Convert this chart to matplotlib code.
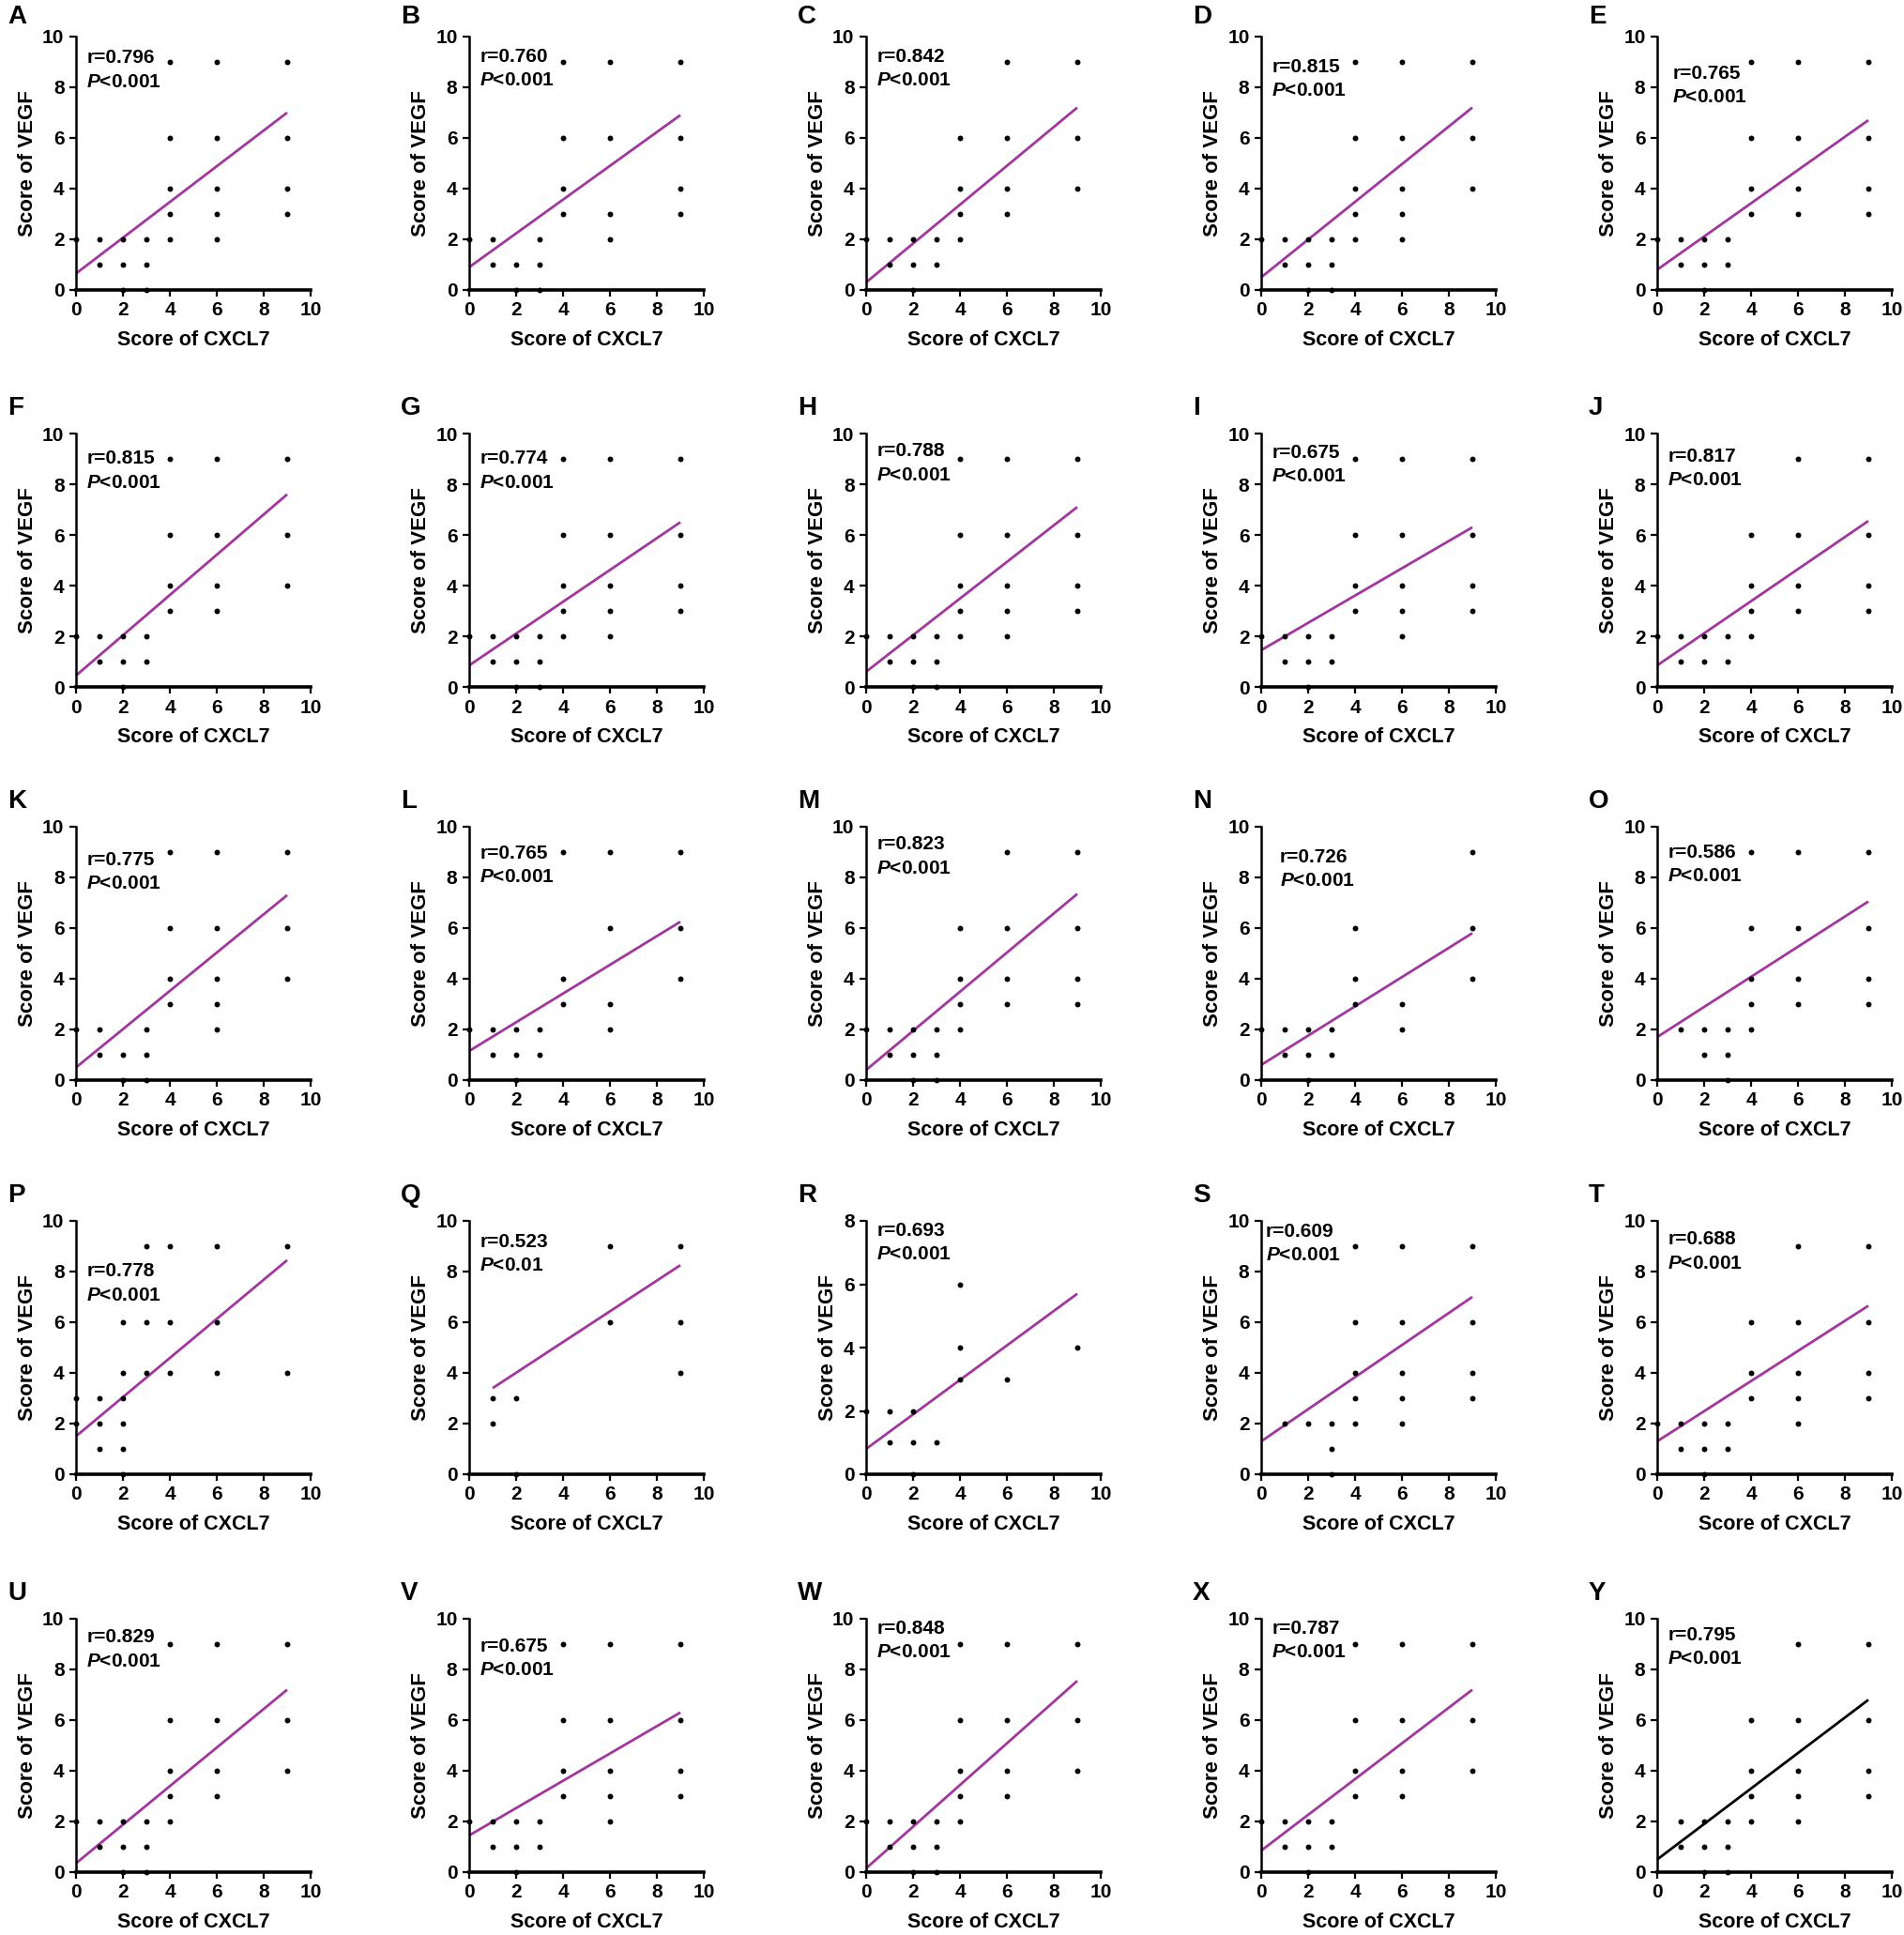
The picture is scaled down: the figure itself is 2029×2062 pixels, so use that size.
import matplotlib
matplotlib.use("Agg")
import matplotlib.pyplot as plt

plt.rcParams['font.family'] = ['Liberation Sans', 'DejaVu Sans']
plt.rcParams['font.weight'] = 'bold'
plt.rcParams['mathtext.fontset'] = 'custom'
plt.rcParams['mathtext.it'] = 'Liberation Sans:bold:italic'
plt.rcParams['mathtext.rm'] = 'Liberation Sans:bold'

# data: (score of CXCL7, score of VEGF) per panel
cxcl7_A = [0, 1, 1, 2, 2, 2, 3, 3, 3, 4, 4, 4, 4, 4, 6, 6, 6, 6, 6, 9, 9, 9, 9]
vegf_A = [2, 2, 1, 2, 1, 0, 2, 1, 0, 9, 6, 4, 3, 2, 9, 6, 4, 3, 2, 9, 6, 4, 3]
cxcl7_B = [0, 1, 1, 2, 2, 3, 3, 3, 4, 4, 4, 4, 6, 6, 6, 6, 9, 9, 9, 9]
vegf_B = [2, 2, 1, 1, 0, 2, 1, 0, 9, 6, 4, 3, 9, 6, 3, 2, 9, 6, 4, 3]
cxcl7_C = [0, 1, 1, 2, 2, 2, 3, 3, 4, 4, 4, 4, 6, 6, 6, 6, 9, 9, 9]
vegf_C = [2, 2, 1, 2, 1, 0, 2, 1, 6, 4, 3, 2, 9, 6, 4, 3, 9, 6, 4]
cxcl7_D = [0, 1, 1, 2, 2, 2, 3, 3, 3, 4, 4, 4, 4, 4, 6, 6, 6, 6, 6, 9, 9, 9]
vegf_D = [2, 2, 1, 2, 1, 0, 2, 1, 0, 9, 6, 4, 3, 2, 9, 6, 4, 3, 2, 9, 6, 4]
cxcl7_E = [0, 1, 1, 2, 2, 2, 3, 3, 4, 4, 4, 4, 6, 6, 6, 6, 9, 9, 9, 9]
vegf_E = [2, 2, 1, 2, 1, 0, 2, 1, 9, 6, 4, 3, 9, 6, 4, 3, 9, 6, 4, 3]
cxcl7_F = [0, 1, 1, 2, 2, 2, 3, 3, 4, 4, 4, 4, 6, 6, 6, 6, 9, 9, 9]
vegf_F = [2, 2, 1, 2, 1, 0, 2, 1, 9, 6, 4, 3, 9, 6, 4, 3, 9, 6, 4]
cxcl7_G = [0, 1, 1, 2, 2, 2, 3, 3, 3, 4, 4, 4, 4, 4, 6, 6, 6, 6, 6, 9, 9, 9, 9]
vegf_G = [2, 2, 1, 2, 1, 0, 2, 1, 0, 9, 6, 4, 3, 2, 9, 6, 4, 3, 2, 9, 6, 4, 3]
cxcl7_H = [0, 1, 1, 2, 2, 2, 3, 3, 3, 4, 4, 4, 4, 4, 6, 6, 6, 6, 6, 9, 9, 9, 9]
vegf_H = [2, 2, 1, 2, 1, 0, 2, 1, 0, 9, 6, 4, 3, 2, 9, 6, 4, 3, 2, 9, 6, 4, 3]
cxcl7_I = [0, 1, 1, 2, 2, 2, 3, 3, 4, 4, 4, 4, 6, 6, 6, 6, 6, 9, 9, 9, 9]
vegf_I = [2, 2, 1, 2, 1, 0, 2, 1, 9, 6, 4, 3, 9, 6, 4, 3, 2, 9, 6, 4, 3]
cxcl7_J = [0, 1, 1, 2, 2, 3, 3, 4, 4, 4, 4, 6, 6, 6, 6, 9, 9, 9, 9]
vegf_J = [2, 2, 1, 2, 1, 2, 1, 6, 4, 3, 2, 9, 6, 4, 3, 9, 6, 4, 3]
cxcl7_K = [0, 1, 1, 2, 2, 3, 3, 3, 4, 4, 4, 4, 6, 6, 6, 6, 6, 9, 9, 9]
vegf_K = [2, 2, 1, 1, 0, 2, 1, 0, 9, 6, 4, 3, 9, 6, 4, 3, 2, 9, 6, 4]
cxcl7_L = [0, 1, 1, 2, 2, 2, 3, 3, 4, 4, 4, 6, 6, 6, 6, 9, 9, 9]
vegf_L = [2, 2, 1, 2, 1, 0, 2, 1, 9, 4, 3, 9, 6, 3, 2, 9, 6, 4]
cxcl7_M = [0, 1, 1, 2, 2, 2, 3, 3, 3, 4, 4, 4, 4, 6, 6, 6, 6, 9, 9, 9, 9]
vegf_M = [2, 2, 1, 2, 1, 0, 2, 1, 0, 6, 4, 3, 2, 9, 6, 4, 3, 9, 6, 4, 3]
cxcl7_N = [0, 1, 1, 2, 2, 2, 3, 3, 4, 4, 4, 6, 6, 9, 9, 9]
vegf_N = [2, 2, 1, 2, 1, 0, 2, 1, 6, 4, 3, 3, 2, 9, 6, 4]
cxcl7_O = [1, 2, 2, 3, 3, 3, 4, 4, 4, 4, 4, 6, 6, 6, 6, 9, 9, 9, 9]
vegf_O = [2, 2, 1, 2, 1, 0, 9, 6, 4, 3, 2, 9, 6, 4, 3, 9, 6, 4, 3]
cxcl7_P = [0, 0, 1, 1, 1, 2, 2, 2, 2, 2, 2, 3, 3, 3, 4, 4, 4, 6, 6, 6, 9, 9]
vegf_P = [3, 2, 3, 2, 1, 6, 4, 3, 2, 1, 0, 9, 6, 4, 9, 6, 4, 9, 6, 4, 9, 4]
cxcl7_Q = [1, 1, 2, 2, 6, 6, 9, 9, 9]
vegf_Q = [3, 2, 3, 0, 9, 6, 9, 6, 4]
cxcl7_R = [0, 1, 1, 2, 2, 2, 3, 4, 4, 4, 6, 9]
vegf_R = [2, 2, 1, 2, 1, 0, 1, 6, 4, 3, 3, 4]
cxcl7_S = [1, 2, 3, 3, 3, 4, 4, 4, 4, 4, 6, 6, 6, 6, 6, 9, 9, 9, 9]
vegf_S = [2, 2, 2, 1, 0, 9, 6, 4, 3, 2, 9, 6, 4, 3, 2, 9, 6, 4, 3]
cxcl7_T = [0, 1, 1, 2, 2, 2, 3, 3, 4, 4, 4, 6, 6, 6, 6, 6, 9, 9, 9, 9]
vegf_T = [2, 2, 1, 2, 1, 0, 2, 1, 6, 4, 3, 9, 6, 4, 3, 2, 9, 6, 4, 3]
cxcl7_U = [0, 1, 1, 2, 2, 2, 3, 3, 3, 4, 4, 4, 4, 4, 6, 6, 6, 6, 9, 9, 9]
vegf_U = [2, 2, 1, 2, 1, 0, 2, 1, 0, 9, 6, 4, 3, 2, 9, 6, 4, 3, 9, 6, 4]
cxcl7_V = [0, 1, 1, 2, 2, 2, 3, 3, 4, 4, 4, 4, 6, 6, 6, 6, 6, 9, 9, 9, 9]
vegf_V = [2, 2, 1, 2, 1, 0, 2, 1, 9, 6, 4, 3, 9, 6, 4, 3, 2, 9, 6, 4, 3]
cxcl7_W = [0, 1, 1, 2, 2, 2, 3, 3, 3, 4, 4, 4, 4, 4, 6, 6, 6, 6, 9, 9, 9]
vegf_W = [2, 2, 1, 2, 1, 0, 2, 1, 0, 9, 6, 4, 3, 2, 9, 6, 4, 3, 9, 6, 4]
cxcl7_X = [0, 1, 1, 2, 2, 2, 3, 3, 4, 4, 4, 4, 6, 6, 6, 6, 9, 9, 9]
vegf_X = [2, 2, 1, 2, 1, 0, 2, 1, 9, 6, 4, 3, 9, 6, 4, 3, 9, 6, 4]
cxcl7_Y = [1, 1, 2, 2, 2, 3, 3, 3, 4, 4, 4, 4, 6, 6, 6, 6, 6, 9, 9, 9, 9]
vegf_Y = [2, 1, 2, 1, 0, 2, 1, 0, 6, 4, 3, 2, 9, 6, 4, 3, 2, 9, 6, 4, 3]

letters = list("ABCDEFGHIJKLMNOPQRSTUVWXY")
r_values = ["0.796", "0.760", "0.842", "0.815", "0.765",
            "0.815", "0.774", "0.788", "0.675", "0.817",
            "0.775", "0.765", "0.823", "0.726", "0.586",
            "0.778", "0.523", "0.693", "0.609", "0.688",
            "0.829", "0.675", "0.848", "0.787", "0.795"]
p_values = ["<0.001"] * 16 + ["<0.01"] + ["<0.001"] * 8
# fitted line: x where it starts, y at that start, y at x=9
fit_x0 = [0] * 16 + [1] + [0] * 8
fit_y0 = [0.65, 0.9, 0.3, 0.5, 0.8, 0.45, 0.85, 0.6, 1.45, 0.85,
          0.5, 1.15, 0.4, 0.6, 1.7, 1.5, 3.4, 0.8, 1.3, 1.3,
          0.35, 1.45, 0.15, 0.85, 0.5]
fit_y9 = [7.0, 6.9, 7.2, 7.2, 6.7, 7.6, 6.5, 7.1, 6.3, 6.55,
          7.3, 6.25, 7.35, 5.8, 7.05, 8.45, 8.25, 5.7, 7.0, 6.65,
          7.2, 6.3, 7.55, 7.2, 6.8]
y_max = [10] * 17 + [8] + [10] * 7

# layout (pixels of the 2029x2062 picture)
W, H = 2029, 2062
col_left = [81, 500, 923, 1344, 1766]
row_zero = [309, 732, 1151, 1571, 1995]
ax_w, ax_h = 250, 270
label_y = [9.15, 9.2, 9.2, 8.8, 8.55, 9.0, 9.0, 9.3, 9.25, 9.1,
           8.7, 8.95, 9.3, 8.8, 8.98, 8.0, 9.16, 7.68, 9.57, 9.26,
           9.26, 8.9, 9.6, 9.6, 9.35]
label_x = [0.45] * 25
label_x[4] = 0.65
label_x[13] = 0.8
label_x[18] = 0.2

purple = '#A3359F'

fig = plt.figure(figsize=(W / 100, H / 100), dpi=100)

for i, letter in enumerate(letters):
    row, col = i // 5, i % 5
    left = col_left[col]
    bottom = row_zero[row]
    ax = fig.add_axes([left / W, 1 - bottom / H, ax_w / W, ax_h / H])
    xs = globals()['cxcl7_' + letter]
    ys = globals()['vegf_' + letter]

    color = 'black' if letter == 'Y' else purple
    ax.plot([fit_x0[i], 9], [fit_y0[i], fit_y9[i]], color=color, lw=2.0,
            solid_capstyle='butt', zorder=2, clip_on=False)
    ax.scatter(xs, ys, s=18, color='black', zorder=3, clip_on=False,
               linewidths=0)

    ax.set_xlim(0, 10)
    ax.set_ylim(0, y_max[i])
    ax.set_xticks(range(0, 11, 2))
    ax.set_yticks(range(0, y_max[i] + 1, 2))
    for side in ['top', 'right']:
        ax.spines[side].set_visible(False)
    ax.spines['left'].set_linewidth(1.8)
    ax.spines['bottom'].set_linewidth(2.6)
    ax.tick_params(direction='out', length=5, width=1.6, labelsize=15, pad=4)
    for lab in ax.get_xticklabels() + ax.get_yticklabels():
        lab.set_fontweight('bold')
    ax.set_xlabel('Score of CXCL7', fontsize=15.5, fontweight='bold', labelpad=8)
    ax.set_ylabel('Score of VEGF', fontsize=16, fontweight='bold', labelpad=4)

    ty = label_y[i] / y_max[i]
    tx = label_x[i] / 10
    ax.text(tx, ty, 'r=' + r_values[i], transform=ax.transAxes, fontsize=15,
            fontweight='bold', va='center', ha='left')
    ax.text(tx, ty - 0.093, r'$P$' + p_values[i], transform=ax.transAxes,
            fontsize=15, fontweight='bold', va='center', ha='left')

    top = bottom - ax_h
    fig.text((left - 73) / W, 1 - max(top - 40, 5) / H, letter, fontsize=20,
             fontweight='bold', va='top', ha='left')

fig.savefig('out.png', dpi=100)
